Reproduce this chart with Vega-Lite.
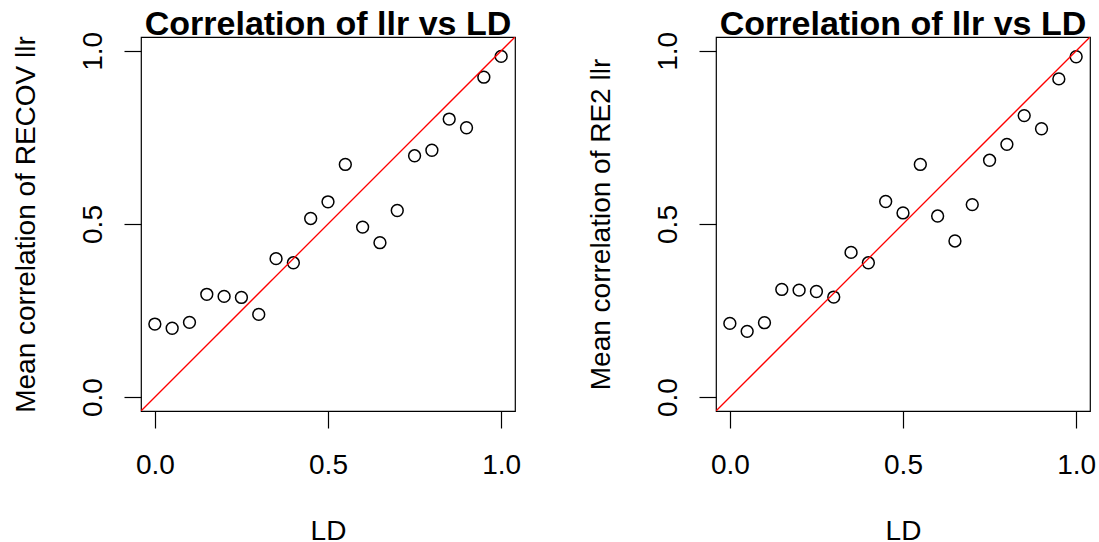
{
  "$schema": "https://vega.github.io/schema/vega-lite/v6.json",
  "background": "white",
  "padding": {"left": 11, "top": 7, "right": 0, "bottom": 0},
  "bounds": "flush",
  "spacing": 201,
  "config": {
    "view": {"stroke": "black", "strokeWidth": 1.2},
    "font": "Liberation Sans",
    "axis": {
      "grid": false,
      "domain": false,
      "tickSize": 17,
      "tickColor": "black",
      "tickWidth": 1.2,
      "labelFont": "Liberation Sans",
      "labelFontSize": 28,
      "labelColor": "black",
      "labelFlush": false,
      "labelOverlap": false,
      "titleFont": "Liberation Sans",
      "titleFontSize": 28,
      "titleFontWeight": "normal",
      "titleColor": "black"
    },
    "axisX": {
      "labelBaseline": "alphabetic",
      "labelAlign": "center",
      "labelPadding": 45,
      "titleBaseline": "alphabetic",
      "titleAlign": "center",
      "titleX": 187,
      "titleY": 128
    },
    "axisY": {
      "labelAngle": -90,
      "labelAlign": "center",
      "labelBaseline": "alphabetic",
      "labelPadding": 23,
      "titleAngle": -90,
      "titleAlign": "center",
      "titleBaseline": "alphabetic",
      "titleX": -107,
      "titleY": 187
    },
    "title": {
      "font": "Liberation Sans",
      "fontSize": 34,
      "fontWeight": "bold",
      "color": "black",
      "anchor": "middle",
      "frame": "group",
      "baseline": "alphabetic",
      "offset": -11
    }
  },
  "datasets": {
    "recov": [
      {"LD": 0.0, "corr": 0.211}, {"LD": 0.05, "corr": 0.199}, {"LD": 0.1, "corr": 0.216},
      {"LD": 0.15, "corr": 0.297}, {"LD": 0.2, "corr": 0.291}, {"LD": 0.25, "corr": 0.288},
      {"LD": 0.3, "corr": 0.239}, {"LD": 0.35, "corr": 0.400}, {"LD": 0.4, "corr": 0.388},
      {"LD": 0.45, "corr": 0.516}, {"LD": 0.5, "corr": 0.564}, {"LD": 0.55, "corr": 0.672},
      {"LD": 0.6, "corr": 0.491}, {"LD": 0.65, "corr": 0.446}, {"LD": 0.7, "corr": 0.539},
      {"LD": 0.75, "corr": 0.697}, {"LD": 0.8, "corr": 0.713}, {"LD": 0.85, "corr": 0.803},
      {"LD": 0.9, "corr": 0.778}, {"LD": 0.95, "corr": 0.924}, {"LD": 1.0, "corr": 0.984}
    ],
    "re2": [
      {"LD": 0.0, "corr": 0.213}, {"LD": 0.05, "corr": 0.190}, {"LD": 0.1, "corr": 0.215},
      {"LD": 0.15, "corr": 0.311}, {"LD": 0.2, "corr": 0.309}, {"LD": 0.25, "corr": 0.305},
      {"LD": 0.3, "corr": 0.289}, {"LD": 0.35, "corr": 0.418}, {"LD": 0.4, "corr": 0.388},
      {"LD": 0.45, "corr": 0.565}, {"LD": 0.5, "corr": 0.532}, {"LD": 0.55, "corr": 0.672},
      {"LD": 0.6, "corr": 0.523}, {"LD": 0.65, "corr": 0.451}, {"LD": 0.7, "corr": 0.556},
      {"LD": 0.75, "corr": 0.684}, {"LD": 0.8, "corr": 0.730}, {"LD": 0.85, "corr": 0.813},
      {"LD": 0.9, "corr": 0.775}, {"LD": 0.95, "corr": 0.919}, {"LD": 1.0, "corr": 0.983}
    ],
    "diag": [
      {"LD": -0.04, "corr": -0.04}, {"LD": 1.04, "corr": 1.04}
    ]
  },
  "hconcat": [
    {
      "width": 374,
      "height": 374,
      "title": {"text": "Correlation of llr vs LD"},
      "layer": [
        {
          "data": {"name": "recov"},
          "mark": {"type": "point", "shape": "circle", "filled": false, "stroke": "black", "strokeWidth": 1.5, "size": 140, "opacity": 1},
          "encoding": {
            "x": {"field": "LD", "type": "quantitative", "scale": {"domain": [-0.04, 1.04], "nice": false, "zero": false}, "axis": {"title": "LD", "values": [0, 0.5, 1], "format": ".1f"}},
            "y": {"field": "corr", "type": "quantitative", "scale": {"domain": [-0.04, 1.04], "nice": false, "zero": false}, "axis": {"title": "Mean correlation of RECOV llr", "values": [0, 0.5, 1], "format": ".1f"}}
          }
        },
        {
          "data": {"name": "diag"},
          "mark": {"type": "line", "color": "red", "strokeWidth": 1.3, "clip": true},
          "encoding": {
            "x": {"field": "LD", "type": "quantitative"},
            "y": {"field": "corr", "type": "quantitative"}
          }
        }
      ]
    },
    {
      "width": 374,
      "height": 374,
      "title": {"text": "Correlation of llr vs LD"},
      "layer": [
        {
          "data": {"name": "re2"},
          "mark": {"type": "point", "shape": "circle", "filled": false, "stroke": "black", "strokeWidth": 1.5, "size": 140, "opacity": 1},
          "encoding": {
            "x": {"field": "LD", "type": "quantitative", "scale": {"domain": [-0.04, 1.04], "nice": false, "zero": false}, "axis": {"title": "LD", "values": [0, 0.5, 1], "format": ".1f"}},
            "y": {"field": "corr", "type": "quantitative", "scale": {"domain": [-0.04, 1.04], "nice": false, "zero": false}, "axis": {"title": "Mean correlation of RE2 llr", "values": [0, 0.5, 1], "format": ".1f"}}
          }
        },
        {
          "data": {"name": "diag"},
          "mark": {"type": "line", "color": "red", "strokeWidth": 1.3, "clip": true},
          "encoding": {
            "x": {"field": "LD", "type": "quantitative"},
            "y": {"field": "corr", "type": "quantitative"}
          }
        }
      ]
    }
  ]
}
